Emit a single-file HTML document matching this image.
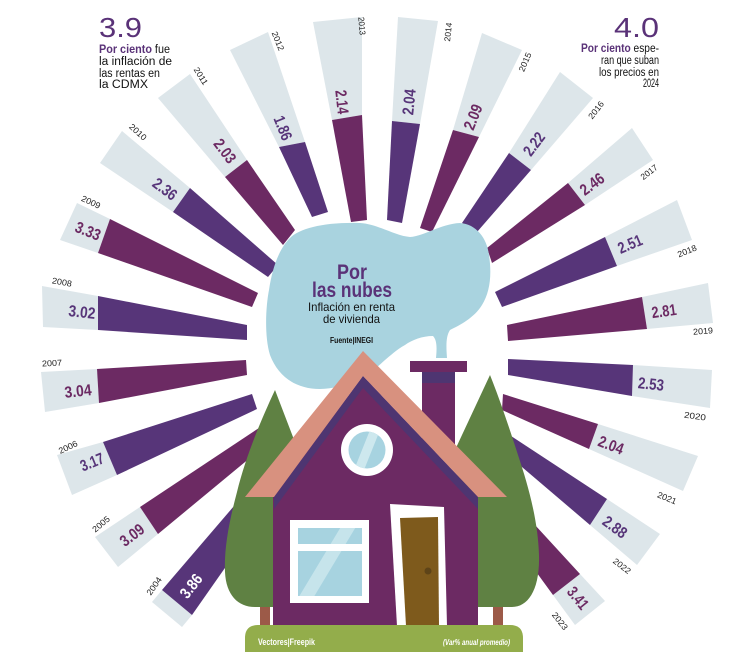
<!DOCTYPE html>
<html><head><meta charset="utf-8"><style>
html,body{margin:0;padding:0;background:#fff;}
svg{display:block;}
text{font-family:"Liberation Sans",sans-serif;}
</style></head><body>
<svg width="750" height="664" viewBox="0 0 750 664" xmlns="http://www.w3.org/2000/svg">
<rect width="750" height="664" fill="#fff"/>
<defs>
<clipPath id="cw"><circle cx="367" cy="450" r="18.5"/></clipPath>
<clipPath id="rw"><rect x="298" y="528" width="64" height="16"/><rect x="298" y="551" width="64" height="45"/></clipPath>
</defs>
<!-- bars: light -->
<g fill="#dde6ea">
<polygon points="152,602 182,627 192,615 162,590"/>
<polygon points="95,537 118,567 158,534 140,507"/>
<polygon points="57,455 72,495 117,475 103,442"/>
<polygon points="41,372 45,412 99,403 97,369"/>
<polygon points="42,286 43,327 98,330 98,296"/>
<polygon points="77,203 60,240 98,253 110,219"/>
<polygon points="122,131 100,163 173,212 190,188"/>
<polygon points="190,74 158,98 225,177 247,160"/>
<polygon points="268,32 230,50 279,147 305,142"/>
<polygon points="362,17 313,22 332,120 362,115"/>
<polygon points="398,17 438,21 420,124 392,121"/>
<polygon points="482,33 522,50 479,137 453,130"/>
<polygon points="560,72 593,98 531,170 509,153"/>
<polygon points="632,128 653,160 585,205 568,183"/>
<polygon points="677,200 692,240 617,266 605,237"/>
<polygon points="708,283 713,323 647,329 642,297"/>
<polygon points="712,370 710,408 632,396 633,365"/>
<polygon points="698,456 683,491 589,449 598,424"/>
<polygon points="660,534 637,565 590,525 607,499"/>
<polygon points="605,601 575,625 553,595 580,574"/>
</g>
<!-- bars: dark -->
<g>
<polygon fill="#573579" points="162,590 192,615 262,515 240,499"/>
<polygon fill="#6c2a63" points="140,507 158,534 268,443 265,424"/>
<polygon fill="#573579" points="103,442 117,475 257,409 252,394"/>
<polygon fill="#6c2a63" points="97,369 99,403 247,375 246,360"/>
<polygon fill="#573579" points="98,296 98,330 247,340 247,325"/>
<polygon fill="#6c2a63" points="110,219 98,253 252,307 258,293"/>
<polygon fill="#573579" points="190,188 173,212 268,277 278,265"/>
<polygon fill="#6c2a63" points="247,160 225,177 283,245 295,230"/>
<polygon fill="#573579" points="305,142 279,147 312,217 328,212"/>
<polygon fill="#6c2a63" points="362,115 332,120 351,222 367,220"/>
<polygon fill="#573579" points="392,121 420,124 402,223 387,220"/>
<polygon fill="#6c2a63" points="453,130 479,137 432,232 420,228"/>
<polygon fill="#573579" points="509,153 531,170 477,232 462,223"/>
<polygon fill="#6c2a63" points="568,183 585,205 492,263 487,248"/>
<polygon fill="#573579" points="605,237 617,266 502,307 495,292"/>
<polygon fill="#6c2a63" points="642,297 647,329 508,341 507,325"/>
<polygon fill="#573579" points="633,365 632,396 508,375 508,359"/>
<polygon fill="#6c2a63" points="598,424 589,449 502,410 503,394"/>
<polygon fill="#573579" points="607,499 590,525 495,444 508,434"/>
<polygon fill="#6c2a63" points="580,574 553,595 510,536 535,525"/>
</g>
<!-- cloud -->
<path fill="#a9d3df" d="M290,238 C300,228 325,222 360,223 C378,224 395,236 410,237 C425,236 440,224 460,223 C476,224 487,238 489,255 C492,275 490,292 482,305 C474,318 460,325 450,330 C446,336 446,345 447,358 L436,358 C437,348 437,340 433,336 C422,336 412,340 405,345 C396,350 390,356 385,360 C370,374 350,388 320,389 C295,389 278,376 270,355 C264,335 266,305 269,290 C272,270 278,250 290,238 Z"/>
<!-- cloud text -->
<text x="337" y="279" font-size="21" font-weight="bold" fill="#5a3278" textLength="30" lengthAdjust="spacingAndGlyphs">Por</text>
<text x="312" y="297" font-size="21" font-weight="bold" fill="#5a3278" textLength="80" lengthAdjust="spacingAndGlyphs">las nubes</text>
<text x="308" y="311" font-size="12" fill="#111" textLength="87" lengthAdjust="spacingAndGlyphs">Inflación en renta</text>
<text x="323" y="323" font-size="12" fill="#111" textLength="57" lengthAdjust="spacingAndGlyphs">de vivienda</text>
<text x="330" y="343" font-size="8" font-weight="bold" fill="#111" textLength="43" lengthAdjust="spacingAndGlyphs">Fuente|INEGI</text>
<!-- trunks -->
<rect x="260" y="600" width="10" height="26" fill="#9c5a48"/>
<rect x="493" y="600" width="10" height="26" fill="#9c5a48"/>
<!-- trees -->
<path fill="#5f8143" d="M275,390 C262,418 246,455 237,492 C229,522 224,548 225,572 C226,595 238,607 255,607 L300,607 L300,450 L293,437 Z"/>
<path fill="#5f8143" d="M490,375 C500,400 510,430 518,455 C528,485 538,520 539,555 C540,590 528,607 512,607 L470,607 L455,450 Z"/>
<!-- chimney -->
<rect x="422" y="372" width="33" height="80" fill="#6c2a63"/>
<rect x="422" y="372" width="33" height="11" fill="#4e3571"/>
<rect x="410" y="361" width="57" height="11" fill="#6c2a63"/>
<!-- house body -->
<polygon fill="#6c2a63" points="273,626 273,497 363,376 478,497 478,626"/>
<polygon fill="#4e3571" points="274,497 363,376 478,497 478,509 363,388 274,509"/>
<!-- roof -->
<polygon fill="#d8917f" points="363,351 507,497 478,497 363,376 274,497 245,497"/>
<!-- round window -->
<circle cx="367" cy="450" r="26" fill="#fff"/>
<circle cx="367" cy="450" r="18.5" fill="#a7d3e0"/>
<polygon clip-path="url(#cw)" fill="#cde8ee" points="372,425 382,425 362,475 352,475"/>
<!-- rect window -->
<rect x="290" y="520" width="79" height="83" fill="#fff"/>
<rect x="298" y="528" width="64" height="16" fill="#a7d3e0"/>
<rect x="298" y="551" width="64" height="45" fill="#a7d3e0"/>
<polygon clip-path="url(#rw)" fill="#c6e4eb" points="345,520 360,520 312,600 297,600"/>
<!-- door -->
<polygon fill="#fff" points="390,504 444,507 447,626 397,626"/>
<polygon fill="#7e5a1c" points="400,518 438,517 439,626 406,626"/>
<circle cx="428" cy="571" r="3.5" fill="#5e4418"/>
<!-- ground -->
<path fill="#93ad4b" d="M245,652 L245,638 Q245,625 258,625 L510,625 Q523,625 523,638 L523,652 Z"/>
<text x="258" y="645" font-size="9" font-weight="bold" fill="#fff" textLength="57" lengthAdjust="spacingAndGlyphs">Vectores|Freepik</text>
<text x="443" y="645" font-size="8" font-style="italic" font-weight="bold" fill="#fff" textLength="67" lengthAdjust="spacingAndGlyphs">(Var% anual promedio)</text>
<!-- annotations -->
<text x="99" y="37" font-size="28" fill="#5a3278" textLength="43" lengthAdjust="spacingAndGlyphs">3.9</text>
<text x="99" y="53" font-size="11.5" fill="#111" textLength="71" lengthAdjust="spacingAndGlyphs"><tspan font-weight="bold" fill="#5a3278">Por ciento</tspan> fue</text>
<text x="99" y="65" font-size="11.5" fill="#111" textLength="73" lengthAdjust="spacingAndGlyphs">la inflación de</text>
<text x="99" y="77" font-size="11.5" fill="#111" textLength="61" lengthAdjust="spacingAndGlyphs">las rentas en</text>
<text x="99" y="88" font-size="11.5" fill="#111" textLength="49" lengthAdjust="spacingAndGlyphs">la CDMX</text>
<text x="659" y="37" font-size="28" fill="#5a3278" text-anchor="end" textLength="45" lengthAdjust="spacingAndGlyphs">4.0</text>
<text x="659" y="52" font-size="11.5" fill="#111" text-anchor="end" textLength="78" lengthAdjust="spacingAndGlyphs"><tspan font-weight="bold" fill="#5a3278">Por ciento</tspan> espe-</text>
<text x="659" y="64" font-size="11.5" fill="#111" text-anchor="end" textLength="58" lengthAdjust="spacingAndGlyphs">ran que suban</text>
<text x="659" y="76" font-size="11.5" fill="#111" text-anchor="end" textLength="60" lengthAdjust="spacingAndGlyphs">los precios en</text>
<text x="659" y="87" font-size="11.5" fill="#111" text-anchor="end" textLength="16" lengthAdjust="spacingAndGlyphs">2024</text>
<!-- value labels -->
<g font-size="16" font-weight="bold" text-anchor="middle">
<text transform="translate(191,586) rotate(-52)" y="5.5" fill="#fff" textLength="26" lengthAdjust="spacingAndGlyphs">3.86</text>
<text transform="translate(132,535) rotate(-37)" y="5.5" fill="#6c2a63" textLength="26" lengthAdjust="spacingAndGlyphs">3.09</text>
<text transform="translate(92,462) rotate(-22)" y="5.5" fill="#573579" textLength="24" lengthAdjust="spacingAndGlyphs">3.17</text>
<text transform="translate(78,391) rotate(-6)" y="5.5" fill="#6c2a63" textLength="27" lengthAdjust="spacingAndGlyphs">3.04</text>
<text transform="translate(82,312) rotate(6)" y="5.5" fill="#573579" textLength="27" lengthAdjust="spacingAndGlyphs">3.02</text>
<text transform="translate(88,231) rotate(22)" y="5.5" fill="#6c2a63" textLength="26" lengthAdjust="spacingAndGlyphs">3.33</text>
<text transform="translate(165,189) rotate(37)" y="5.5" fill="#573579" textLength="26" lengthAdjust="spacingAndGlyphs">2.36</text>
<text transform="translate(225,151) rotate(53)" y="5.5" fill="#6c2a63" textLength="26" lengthAdjust="spacingAndGlyphs">2.03</text>
<text transform="translate(283,128) rotate(68)" y="5.5" fill="#573579" textLength="25" lengthAdjust="spacingAndGlyphs">1.86</text>
<text transform="translate(342,102) rotate(84)" y="5.5" fill="#6c2a63" textLength="24" lengthAdjust="spacingAndGlyphs">2.14</text>
<text transform="translate(409,102) rotate(-84)" y="5.5" fill="#573579" textLength="26" lengthAdjust="spacingAndGlyphs">2.04</text>
<text transform="translate(473,117) rotate(-68)" y="5.5" fill="#6c2a63" textLength="26" lengthAdjust="spacingAndGlyphs">2.09</text>
<text transform="translate(534,144) rotate(-53)" y="5.5" fill="#573579" textLength="25" lengthAdjust="spacingAndGlyphs">2.22</text>
<text transform="translate(592,184) rotate(-36)" y="5.5" fill="#6c2a63" textLength="26" lengthAdjust="spacingAndGlyphs">2.46</text>
<text transform="translate(630,244) rotate(-23)" y="5.5" fill="#573579" textLength="25" lengthAdjust="spacingAndGlyphs">2.51</text>
<text transform="translate(664,311) rotate(-8)" y="5.5" fill="#6c2a63" textLength="25" lengthAdjust="spacingAndGlyphs">2.81</text>
<text transform="translate(651,384) rotate(6)" y="5.5" fill="#573579" textLength="26" lengthAdjust="spacingAndGlyphs">2.53</text>
<text transform="translate(611,445) rotate(21)" y="5.5" fill="#6c2a63" textLength="26" lengthAdjust="spacingAndGlyphs">2.04</text>
<text transform="translate(615,527) rotate(36)" y="5.5" fill="#573579" textLength="26" lengthAdjust="spacingAndGlyphs">2.88</text>
<text transform="translate(578,598) rotate(51)" y="5.5" fill="#6c2a63" textLength="24" lengthAdjust="spacingAndGlyphs">3.41</text>
</g>
<!-- year labels -->
<g font-size="8.5" fill="#222" text-anchor="middle">
<text transform="translate(154,586) rotate(-55)" y="3" textLength="20" lengthAdjust="spacingAndGlyphs">2004</text>
<text transform="translate(101,524) rotate(-40)" y="3" textLength="20" lengthAdjust="spacingAndGlyphs">2005</text>
<text transform="translate(68,447) rotate(-25)" y="3" textLength="20" lengthAdjust="spacingAndGlyphs">2006</text>
<text transform="translate(52,363) rotate(-3)" y="3" textLength="20" lengthAdjust="spacingAndGlyphs">2007</text>
<text transform="translate(62,282) rotate(10)" y="3" textLength="20" lengthAdjust="spacingAndGlyphs">2008</text>
<text transform="translate(91,202) rotate(25)" y="3" textLength="20" lengthAdjust="spacingAndGlyphs">2009</text>
<text transform="translate(138,132) rotate(42)" y="3" textLength="20" lengthAdjust="spacingAndGlyphs">2010</text>
<text transform="translate(201,76) rotate(58)" y="3" textLength="19" lengthAdjust="spacingAndGlyphs">2011</text>
<text transform="translate(278,41) rotate(68)" y="3" textLength="20" lengthAdjust="spacingAndGlyphs">2012</text>
<text transform="translate(362,26) rotate(85)" y="3" textLength="18" lengthAdjust="spacingAndGlyphs">2013</text>
<text transform="translate(448,32) rotate(-84)" y="3" textLength="19" lengthAdjust="spacingAndGlyphs">2014</text>
<text transform="translate(525,62) rotate(-67)" y="3" textLength="20" lengthAdjust="spacingAndGlyphs">2015</text>
<text transform="translate(596,110) rotate(-52)" y="3" textLength="20" lengthAdjust="spacingAndGlyphs">2016</text>
<text transform="translate(649,172) rotate(-38)" y="3" textLength="19" lengthAdjust="spacingAndGlyphs">2017</text>
<text transform="translate(687,251) rotate(-22)" y="3" textLength="20" lengthAdjust="spacingAndGlyphs">2018</text>
<text transform="translate(703,331) rotate(-4)" y="3" textLength="20" lengthAdjust="spacingAndGlyphs">2019</text>
<text transform="translate(695,416) rotate(8)" y="3" textLength="22" lengthAdjust="spacingAndGlyphs">2020</text>
<text transform="translate(667,498) rotate(22)" y="3" textLength="20" lengthAdjust="spacingAndGlyphs">2021</text>
<text transform="translate(622,566) rotate(38)" y="3" textLength="20" lengthAdjust="spacingAndGlyphs">2022</text>
<text transform="translate(560,621) rotate(52)" y="3" textLength="20" lengthAdjust="spacingAndGlyphs">2023</text>
</g>
</svg>
</body></html>
